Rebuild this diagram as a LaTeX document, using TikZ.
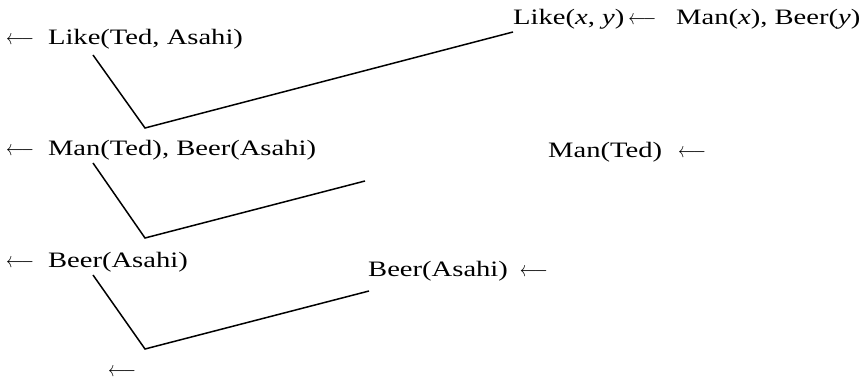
\documentclass[tikz,border=0pt]{standalone}
\usepackage{fontspec}
\setmainfont{Liberation Serif}[FakeStretch=1.3]
\begin{document}
\begin{tikzpicture}[x=1pt,y=1pt,
  lbl/.style={inner sep=0pt,anchor=base west,font=\fontsize{22}{26}\selectfont},
  branch/.style={line width=1.5pt,line join=miter}]
\useasboundingbox (0,0) rectangle (867,382);
\newcommand\larr{\scalebox{1}[1.25]{\fontsize{18}{20}\selectfont$\longleftarrow$}}
\node[lbl] (t1) at (6,337) {\larr\hspace{14pt}Like(Ted, Asahi)};
\node[lbl] (r1) at (513,357) {Like(\textit{x}, \textit{y})\hspace{4pt}\larr\hspace{20pt}Man(\textit{x}), Beer(\textit{y})};
\node[lbl] (t2) at (6,226) {\larr\hspace{14pt}Man(Ted), Beer(Asahi)};
\node[lbl] (r2) at (548,224) {Man(Ted)\hspace{16pt}\larr};
\node[lbl] (t3) at (6,114) {\larr\hspace{14pt}Beer(Asahi)};
\node[lbl] (r3) at (368,105) {Beer(Asahi)\hspace{12pt}\larr};
\node[lbl] (t4) at (108,5) {\larr};
\coordinate (a1) at (93,327); \coordinate (v1) at (145,254); \coordinate (b1) at (513,350);
\coordinate (a2) at (93,219); \coordinate (v2) at (145,144); \coordinate (b2) at (365,201);
\coordinate (a3) at (93,107); \coordinate (v3) at (145,33); \coordinate (b3) at (369,91);
\draw[branch] (a1) -- (v1) -- (b1);
\draw[branch] (a2) -- (v2) -- (b2);
\draw[branch] (a3) -- (v3) -- (b3);
\end{tikzpicture}
\end{document}
